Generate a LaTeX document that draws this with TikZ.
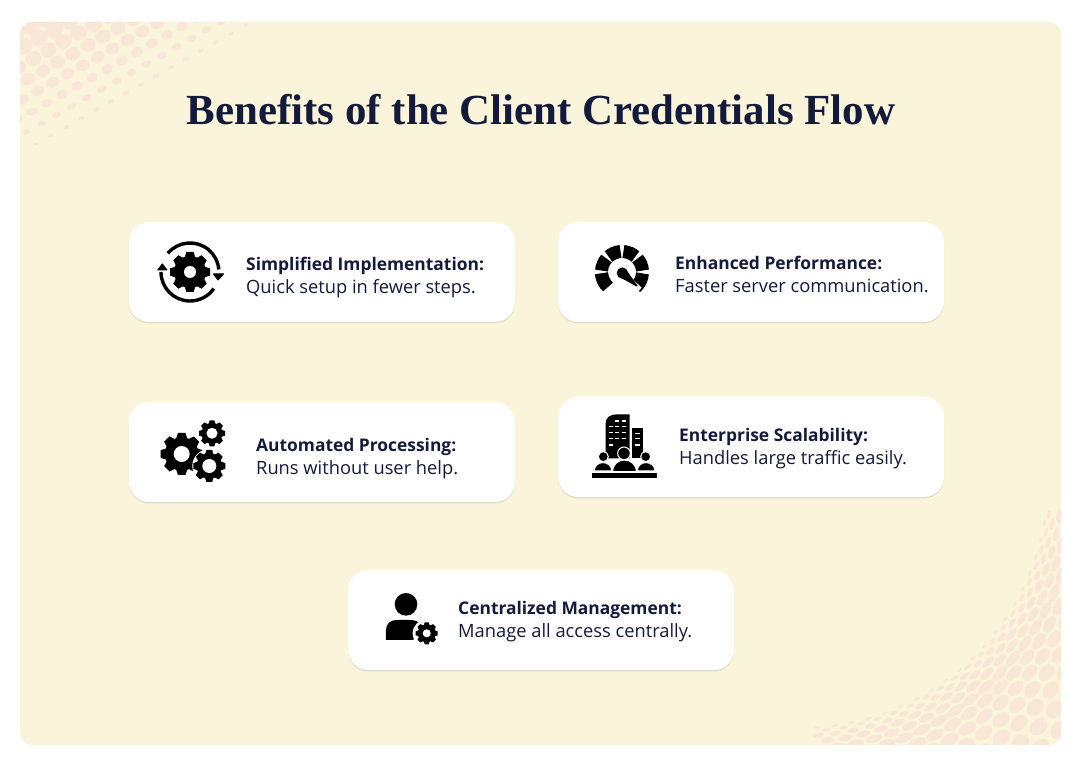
\documentclass[tikz,border=0pt]{standalone}
\usepackage{fontspec}
\setmainfont{Open Sans}
\newfontfamily\titlefont{Liberation Serif}
\usepackage{xcolor}
\usetikzlibrary{shadows}
\definecolor{panelcol}{HTML}{FAF4DB}
\definecolor{dotcol}{HTML}{F8E6D6}
\definecolor{inkcol}{HTML}{141A3A}
\definecolor{edgecol}{HTML}{E2DDC6}
\tikzset{%
  card/.style={rectangle,rounded corners=20pt,fill=white,minimum width=386pt,minimum height=100pt,inner sep=0pt,
    drop shadow={shadow xshift=0pt,shadow yshift=-1.5pt,fill=edgecol,opacity=1}},
  cardhead/.style={anchor=base west,inner sep=0pt,text=inkcol,font=\bfseries\fontsize{17.4}{20}\selectfont},
  carddesc/.style={anchor=base west,inner sep=0pt,text=inkcol,font=\fontsize{18.3}{20}\selectfont},
  iconline/.style={draw=black,line width=3.4pt},
  arrowtip/.style={fill=black,draw=black,line width=1pt,line join=round}
}
\newcommand{\gearicon}[4]{%
  \begin{scope}[shift={(#1,#2)}]
    \fill[black] (0,0) circle[radius=0.8*#3];
    \foreach \a in {0,45,...,315} {
      \fill[black,rotate=\a] (-0.27*#3,0.72*#3) -- (-0.18*#3,#3) -- (0.18*#3,#3) -- (0.27*#3,0.72*#3) -- cycle;
    }
    \fill[white] (0,0) circle[radius=#4];
  \end{scope}
}
\begin{document}
\begin{tikzpicture}[x=1pt,y=1pt]
  \useasboundingbox (0,0) rectangle (1080,766);
  \fill[white] (0,0) rectangle (1080,766);
  \fill[panelcol,rounded corners=12pt] (20,21) rectangle (1061,744);

  % halftone corners
  \begin{scope}
    \clip[rounded corners=12pt] (20,21) rectangle (1061,744);
    \foreach \i in {-6,...,12} {
      \foreach \j in {-12,...,10} {
        \pgfmathsetmacro\dotx{20+24.5*\i+15*\j}
        \pgfmathsetmacro\doty{752-3.5*\i+8.5*\j}
        \pgfmathsetmacro\dotu{max(0,min(1,(\dotx-20)/240))}
        \pgfmathsetmacro\dott{1-(\dotx-20)/240-(744-\doty)/132+0.4*\dotu*(1-\dotu)}
        \ifdim\dott pt>0.02pt
          \pgfmathsetmacro\dotr{9.5*min(1,\dott)^0.45}
          \pgfmathsetmacro\dots{\dotr*(0.45+0.55*min(1,\dott)^0.6)}
          \fill[dotcol] (\dotx,\doty) circle[x radius=\dotr,y radius=\dots,rotate=22];
        \fi
      }
    }
    \foreach \k in {0,...,14} {
      \foreach \n in {0,...,19} {
        \pgfmathsetmacro\ang{-86+4.0*\n+2.0*mod(\k,2)}
        \pgfmathsetmacro\rad{248+2.5*\k+0.7*\k*\k}
        \pgfmathsetmacro\rr{0.46*(2.5+1.4*\k)}
        \pgfmathsetmacro\rt{min(9.5,3+1.3*\k)}
        \fill[dotcol] ({800+\rad*cos(\ang)},{286+\rad*sin(\ang)}) circle[x radius=\rr,y radius=\rt,rotate=\ang];
      }
    }
  \end{scope}

  \node[inner sep=0pt,text=inkcol,font=\titlefont\bfseries\fontsize{42.9}{48}\selectfont] (title) at (541,656) {Benefits of the Client Credentials Flow};

  % cards
  \node[card] (simpcard) at (322,494) {};
  \node[card] (perfcard) at (751,494) {};
  \node[card] (autocard) at (322,314) {};
  \node[card] (scalecard) at (751,319) {};
  \node[card] (mgmtcard) at (541,146) {};

  \node[cardhead] (simphead) at (246,495) {Simplified Implementation:};
  \node[carddesc] (simpdesc) at (246,472) {Quick setup in fewer steps.};
  \node[cardhead] (perfhead) at (675,496) {Enhanced Performance:};
  \node[carddesc] (perfdesc) at (675,473) {Faster server communication.};
  \node[cardhead] (autohead) at (256,314) {Automated Processing:};
  \node[carddesc] (autodesc) at (256,291) {Runs without user help.};
  \node[cardhead] (scalehead) at (679,324) {Enterprise Scalability:};
  \node[carddesc] (scaledesc) at (679,301) {Handles large traffic easily.};
  \node[cardhead] (mgmthead) at (458,151) {Centralized Management:};
  \node[carddesc] (mgmtdesc) at (458,128) {Manage all access centrally.};

  % simplified icon
  \gearicon{190}{494}{20}{6}
  \draw[iconline] (190,494)+(140:29) arc[start angle=140,end angle=5,radius=29];
  \draw[iconline] (190,494)+(180:29) arc[start angle=180,end angle=325,radius=29];
  \filldraw[arrowtip] (213.5,492) -- (223.5,492) -- (218,486) -- cycle;
  \filldraw[arrowtip] (157.8,496) -- (167,496) -- (162.3,502) -- cycle;

  % performance icon
  \begin{scope}[shift={(622,494)}]
    \foreach \a in {180,135,90,45,0} {
      \draw[black,line width=13pt] ({\a+41}:20.5) arc[start angle=\a+41,end angle=\a+4,radius=20.5];
    }
    \draw[black,line width=13pt] (-4:20.5) arc[start angle=-4,end angle=-49,radius=20.5];
    \draw[black,line width=13pt] (184:20.5) arc[start angle=184,end angle=227,radius=20.5];
    \draw[white,line width=5pt] (0.3,-1) -- (18,-17.5);
    \fill[black] (3.9,2.6) -- (15.5,-13.5) -- (14.5,-14.5) -- (-3.3,-4.6) -- cycle;
    \fill[black] (0.3,-1) circle[radius=5.6];
  \end{scope}

  % automated icon
  \gearicon{181.7}{312}{21}{8}
  \gearicon{212}{332.7}{13}{5.5}
  \fill[white] (209.3,300) circle[radius=17];
  \gearicon{209.3}{300}{16}{7}

  % scalability icon
  \begin{scope}[shift={(560,371)},x=0.3333pt,y=-0.3333pt]
    \fill[black] (137,190) -- (137,85) .. controls (137,68) and (150,58) .. (170,58) -- (209,58) -- (209,190) -- cycle;
    \fill[black] (215,100) rectangle (250,190);
    \foreach \wy in {95,113,130} {
      \foreach \wx in {148,165,185} {
        \fill[white] (\wx,\wy-2) rectangle (\wx+12,\wy+2);
      }
    }
    \fill[white] (165,76) rectangle (177,80);
    \fill[white] (185,76) rectangle (197,80);
    \fill[white] (148,148) rectangle (160,152);
    \foreach \wy in {115,130,150} {
      \fill[white] (226,\wy-2) rectangle (240,\wy+2);
    }
    \filldraw[black,draw=white,line width=1pt] (130,185) circle[radius=15];
    \filldraw[black,draw=white,line width=1pt] (257,185) circle[radius=15];
    \filldraw[black,draw=white,line width=1pt] (103,228) .. controls (103,212) and (115,203) .. (129,203) .. controls (143,203) and (155,212) .. (155,228) -- cycle;
    \filldraw[black,draw=white,line width=1pt] (232,228) .. controls (232,212) and (244,203) .. (258,203) .. controls (272,203) and (285,212) .. (285,228) -- cycle;
    \filldraw[black,draw=white,line width=1pt] (158,230) .. controls (158,208) and (175,195) .. (193,195) .. controls (211,195) and (229,208) .. (229,230) -- cycle;
    \filldraw[black,draw=white,line width=1pt] (192,175) circle[radius=19];
    \fill[black] (95,233) rectangle (291,249);
  \end{scope}

  % management icon
  \begin{scope}[shift={(350,196)},x=0.3333pt,y=-0.3333pt]
    \fill[black] (168,103) circle[radius=34];
    \fill[black] (108,210) -- (108,180) .. controls (108,160) and (122,150) .. (140,150) -- (180,150) .. controls (195,150) and (205,155) .. (210,162) -- (190,210) -- cycle;
    \fill[white] (230,190) circle[radius=42];
  \end{scope}
  \gearicon{426.7}{132.7}{11}{4}
\end{tikzpicture}
\end{document}
